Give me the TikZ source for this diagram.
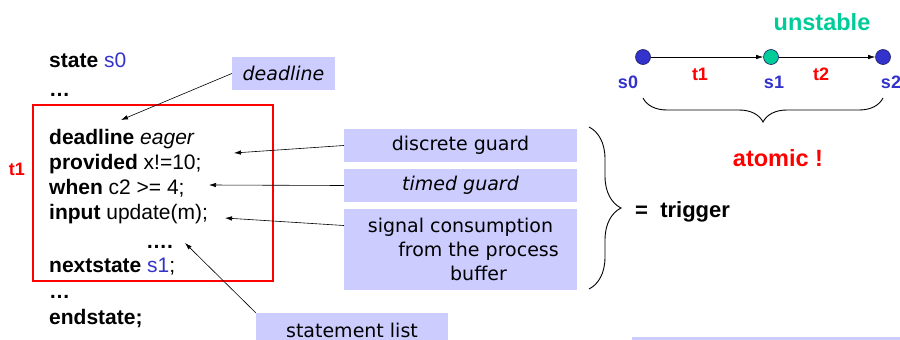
\documentclass[tikz,border=0pt]{standalone}
\usepackage{fontspec}
\setmainfont{Liberation Sans}
\newfontfamily\comicfont{DejaVu Sans}
\usetikzlibrary{arrows.meta, decorations.pathreplacing}
\definecolor{lavender}{HTML}{CCCCFF}
\definecolor{stblue}{HTML}{3333CC}
\definecolor{stgreen}{HTML}{00CC99}
\definecolor{stred}{HTML}{FF0000}

\begin{document}
\begin{tikzpicture}[
    x=1pt, y=-1pt,
    >={Latex[length=7pt, width=4.5pt]},
    code/.style={anchor=base west, inner sep=0pt,
                 font=\fontsize{21}{24}\selectfont},
    callout/.style={fill=lavender, inner sep=0pt, align=center,
                    font=\comicfont\fontsize{19}{24}\selectfont},
    ptr/.style={->, line width=0.6pt},
    state/.style={circle, draw=stblue!50!black, line width=0.6pt,
                  minimum size=15pt, inner sep=0pt},
    stlbl/.style={font=\bfseries\fontsize{18}{20}\selectfont, inner sep=0pt},
    biglbl/.style={font=\bfseries\fontsize{23.5}{26}\selectfont, inner sep=0pt},
    bigbrace/.style={decorate, line width=0.9pt,
                     decoration={brace, amplitude=#1}},
  ]

  % ══════════════════════════════════════════════════════
  % Canvas
  % ══════════════════════════════════════════════════════
  \useasboundingbox (0,0) rectangle (900,340);
  \clip (0,0) rectangle (900,340);

  % ══════════════════════════════════════════════════════
  % State code listing
  % ══════════════════════════════════════════════════════
  \node[code] (l0) at (49,67)  {\textbf{state} \textcolor{stblue}{s0}};
  \node[code] (l1) at (49,96)  {\textbf{…}};
  \node[code] (l2) at (49,144) {\textbf{deadline} \textit{eager}};
  \node[code] (l3) at (49,169) {\textbf{provided} x!=10;};
  \node[code] (l4) at (49,194) {\textbf{when} c2 >= 4;};
  \node[code] (l5) at (49,219) {\textbf{input} update(m);};
  \node[code] (l6) at (146,248) {\textbf{….}};
  \node[code] (l7) at (49,272) {\textbf{nextstate} \textcolor{stblue}{s1};};
  \node[code] (l8) at (49,298) {\textbf{…}};
  \node[code] (l9) at (49,324) {\textbf{endstate;}};

  % transition box t1
  \node[draw=stred, line width=1.2pt, minimum width=240pt,
        minimum height=176pt, inner sep=0pt] (t1box) at (153,193) {};
  \node[stlbl, text=stred] (t1lbl) at (17,169) {t1};

  % ══════════════════════════════════════════════════════
  % Callouts
  % ══════════════════════════════════════════════════════
  \node[callout, minimum width=103pt, minimum height=33pt]
    (deadbox) at (283.5,73.5) {\itshape deadline};
  \node[callout, minimum width=233pt, minimum height=33pt]
    (discbox) at (460.5,145.5) {discrete guard};
  \node[callout, minimum width=233pt, minimum height=33pt]
    (timebox) at (460.5,185.5) {\itshape timed guard};
  \node[callout, minimum width=233pt, minimum height=81pt]
    (sigbox) at (460.5,249.5)
    {signal consumption\\\hspace*{36pt}from the process\\\hspace*{36pt}buffer};
  \node[callout, minimum width=192pt, minimum height=34pt]
    (stmtbox) at (352,330) {statement list};
  \node[fill=lavender, minimum width=268pt, minimum height=14pt,
        inner sep=0pt] (nextbox) at (766,344) {};

  % pointer targets in the listing
  \coordinate (dlpt) at (121,120);
  \coordinate (dgpt) at (234,153);
  \coordinate (tgpt) at (209,185);
  \coordinate (scpt) at (225,218);
  \coordinate (slpt) at (185,243);

  \draw[ptr] (deadbox.west) -- (dlpt);
  \draw[ptr] (discbox.west) -- (dgpt);
  \draw[ptr] (timebox.west) -- (tgpt);
  \draw[ptr] ([yshift=24pt]sigbox.west) -- (scpt);
  \draw[ptr] (stmtbox.north west) -- (slpt);

  % trigger brace
  \draw[bigbrace=32pt] (589,127) -- (589,289);
  \node[anchor=west, inner sep=0pt, font=\bfseries\fontsize{22}{24}\selectfont]
    (trig) at (635,212) {= \ trigger};

  % ══════════════════════════════════════════════════════
  % Atomic step s0 -> s1 -> s2
  % ══════════════════════════════════════════════════════
  \node[state, fill=stblue]  (s0) at (643,57) {};
  \node[state, fill=stgreen] (s1) at (771,57) {};
  \node[state, fill=stblue]  (s2) at (883,57) {};
  \draw[ptr] (s0) -- (s1);
  \draw[ptr] (s1) -- (s2);

  \node[stlbl, text=stblue] (s0l) at (628,82) {s0};
  \node[stlbl, text=stblue] (s1l) at (774,82) {s1};
  \node[stlbl, text=stblue] (s2l) at (891,82) {s2};
  \node[stlbl, text=stred]  (t1l) at (700,74) {t1};
  \node[stlbl, text=stred]  (t2l) at (821,74) {t2};

  \node[biglbl, text=stgreen] (unst) at (822,22) {unstable};

  \draw[bigbrace=24pt] (883,98) -- (643,98);
  \node[biglbl, text=stred] (atom) at (778,158) {atomic !};

\end{tikzpicture}
\end{document}
